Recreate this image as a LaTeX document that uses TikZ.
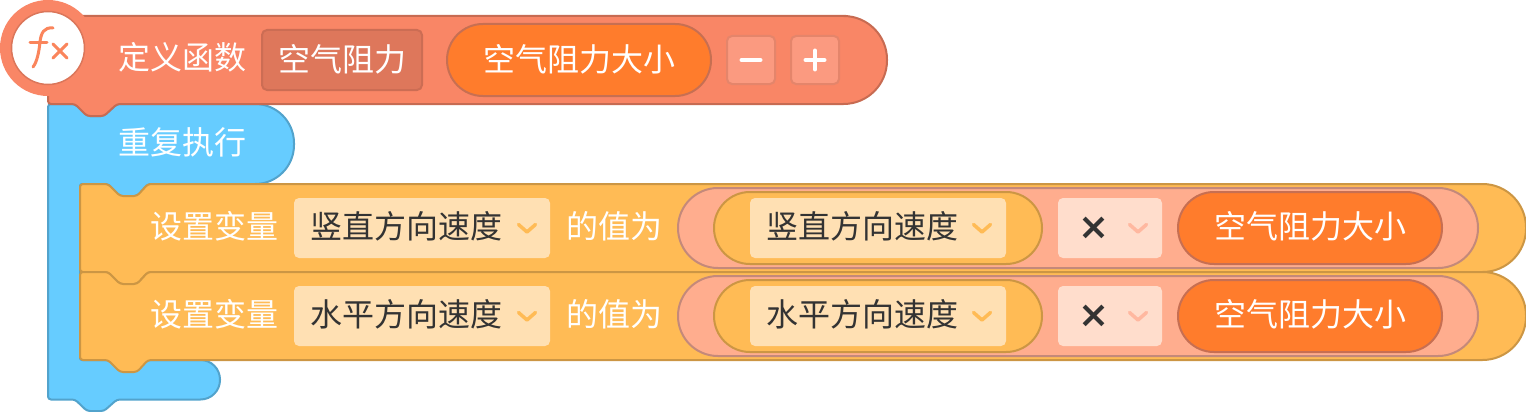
\documentclass[tikz,border=0pt]{standalone}
\usepackage{fontspec}
\setmainfont{Noto Sans CJK SC}
\newfontfamily\opfont{DejaVu Sans}
\definecolor{coral}{HTML}{F98666}
\definecolor{coralline}{HTML}{C76B52}
\definecolor{coraldark}{HTML}{DE775B}
\definecolor{coralbtn}{HTML}{FB9A80}
\definecolor{skyblue}{HTML}{66CCFF}
\definecolor{skyline}{HTML}{52A3CC}
\definecolor{amber}{HTML}{FFBB55}
\definecolor{amberline}{HTML}{CC9644}
\definecolor{peach}{HTML}{FFAD8E}
\definecolor{peachline}{HTML}{C4897A}
\definecolor{hotorange}{HTML}{FF7C2C}
\definecolor{hotline}{HTML}{C76F52}
\definecolor{dropamber}{HTML}{FFE0B3}
\definecolor{droppeach}{HTML}{FFDDCC}
\definecolor{inkdark}{HTML}{333333}
\definecolor{chevpeach}{HTML}{FFB8A0}
\tikzset{
  blockline/.style={line width=2pt,line join=round},
  lbl/.style={inner sep=0pt,outer sep=0pt,text height=26pt,text depth=2pt,font=\fontsize{32}{36}\selectfont,align=center},
  whitelbl/.style={lbl,text=white},
  darklbl/.style={lbl,text=inkdark},
  boxbase/.style={lbl,draw,line width=2pt,rectangle},
  varpill/.style={boxbase,fill=hotorange,draw=hotline,text=white,rounded corners=35.9pt,minimum width=264pt,minimum height=72pt},
  exprpill/.style={boxbase,fill=peach,draw=peachline,rounded corners=39.9pt,minimum width=800pt,minimum height=80pt},
  innerpill/.style={boxbase,fill=amber,draw=amberline,rounded corners=35.9pt,minimum width=328pt,minimum height=72pt},
  dropbox/.style={lbl,fill=dropamber,rounded corners=5pt,minimum width=256pt,minimum height=60pt},
  opbox/.style={lbl,fill=droppeach,rounded corners=5pt,minimum width=104pt,minimum height=60pt},
  namebox/.style={boxbase,fill=coraldark,draw=coraldark!92!black,text=white,rounded corners=5pt,minimum width=160pt,minimum height=60pt},
  btnbox/.style={boxbase,fill=coralbtn,draw=coralline!45!coralbtn,rounded corners=5pt,minimum width=48pt,minimum height=48pt},
  chev/.style={line width=3.5pt,line cap=round,line join=round},
  oplbl/.style={inner sep=0pt,outer sep=0pt,text=inkdark,font=\opfont\bfseries\fontsize{37}{37}\selectfont},
  glyphline/.style={line width=4pt,line cap=round,white},
  fxline/.style={line width=3pt,line cap=round,coral!90!orange},
}
\begin{document}
\begin{tikzpicture}[x=1pt,y=-1pt]
\useasboundingbox (0,0) rectangle (1526,412);
% C-shaped repeat block
\draw[blockline,fill=skyblue,draw=skyline,rounded corners=3pt]
  (48,104) -- (75,104) -- (87,116) -- (104,116) -- (117,104)
  [rounded corners=39pt] -- (294,104) -- (294,184)
  [rounded corners=2pt] -- (148,184) -- (137,196) -- (120,196) -- (108,184) -- (80,184) -- (80,360)
  [rounded corners=19.5pt] -- (220,360) -- (220,399.5)
  [rounded corners=3pt] -- (117,399.5) -- (104,411) -- (87,411) -- (75,399.5) -- (48,399.5) -- cycle;
% function hat
\draw[blockline,fill=coral,draw=coralline,rounded corners=3pt]
  (48,16) -- (843,16)
  [rounded corners=43.5pt] -- (887,16) -- (887,104)
  [rounded corners=3pt] -- (117,104) -- (104,116) -- (87,116) -- (75,104) -- (48,104) -- cycle;
\node[circle,fill=coral,minimum size=96pt,inner sep=0pt,outer sep=0pt] (fxouter) at (48,48) {};
\node[circle,fill=white,draw=coralline!60!coral,line width=1.5pt,minimum size=73pt,inner sep=0pt,outer sep=0pt] (fxinner) at (48,48) {};
\draw[fxline] (53,28) .. controls (44,27) and (41,33) .. (40,42) .. controls (39,52) and (37,62) .. (33,67);
\draw[fxline] (30,43) -- (47,43);
\draw[fxline] (53,44) -- (67,58);
\draw[fxline] (67,44) -- (53,58);
\node[whitelbl] (deflbl) at (182,58) {定义函数};
\node[namebox,text depth=4pt] (fname) at (342,60) {空气阻力};
\node[varpill,text depth=4pt] (param) at (579,60) {空气阻力大小};
\node[btnbox] (minusbtn) at (751,60) {};
\node[btnbox] (plusbtn) at (815,60) {};
\draw[glyphline] (741.5,60) -- (760.5,60);
\draw[glyphline] (805.5,60) -- (824.5,60);
\draw[glyphline] (815,50.5) -- (815,69.5);
\node[whitelbl] (repeatlbl) at (182,142) {重复执行};
% first set block
\draw[blockline,fill=amber,draw=amberline,rounded corners=3pt]
  (80,184) -- (108,184) -- (120,196) -- (137,196) -- (148,184)
  [rounded corners=43.5pt] -- (1526,184) -- (1526,272)
  [rounded corners=3pt] -- (148,272) -- (137,284) -- (120,284) -- (108,272) -- (80,272) -- cycle;
% second set block
\draw[blockline,fill=amber,draw=amberline,rounded corners=3pt]
  (80,272) -- (108,272) -- (120,284) -- (137,284) -- (148,272)
  [rounded corners=43.5pt] -- (1526,272) -- (1526,360)
  [rounded corners=3pt] -- (148,360) -- (137,372) -- (120,372) -- (108,360) -- (80,360) -- cycle;
% row 1
\node[whitelbl] (setA) at (214,226) {设置变量};
\node[dropbox] (dropA) at (422,228) {};
\node[darklbl] (dropAtxt) at (406,226) {竖直方向速度};
\draw[chev,amber] (518.5,224.5) -- (527,232) -- (535.5,224.5);
\node[whitelbl] (valA) at (614,226) {的值为};
\node[exprpill] (exprA) at (1078,228) {};
\node[innerpill] (innerA) at (878,228) {};
\node[dropbox] (idropA) at (878,228) {};
\node[darklbl] (idropAtxt) at (862,226) {竖直方向速度};
\draw[chev,amber] (973.5,224.5) -- (982,232) -- (990.5,224.5);
\node[opbox] (opA) at (1110,228) {};
\node[oplbl] (opAtxt) at (1094,228) {×};
\draw[chev,chevpeach] (1129.5,224.5) -- (1138,232) -- (1146.5,224.5);
\node[varpill] (varA) at (1310,228) {};
\node[whitelbl] (varAtxt) at (1310,226) {空气阻力大小};
% row 2
\node[whitelbl] (setB) at (214,314) {设置变量};
\node[dropbox] (dropB) at (422,316) {};
\node[darklbl] (dropBtxt) at (406,314) {水平方向速度};
\draw[chev,amber] (518.5,312.5) -- (527,320) -- (535.5,312.5);
\node[whitelbl] (valB) at (614,314) {的值为};
\node[exprpill] (exprB) at (1078,316) {};
\node[innerpill] (innerB) at (878,316) {};
\node[dropbox] (idropB) at (878,316) {};
\node[darklbl] (idropBtxt) at (862,314) {水平方向速度};
\draw[chev,amber] (973.5,312.5) -- (982,320) -- (990.5,312.5);
\node[opbox] (opB) at (1110,316) {};
\node[oplbl] (opBtxt) at (1094,316) {×};
\draw[chev,chevpeach] (1129.5,312.5) -- (1138,320) -- (1146.5,312.5);
\node[varpill] (varB) at (1310,316) {};
\node[whitelbl] (varBtxt) at (1310,314) {空气阻力大小};
\end{tikzpicture}
\end{document}
